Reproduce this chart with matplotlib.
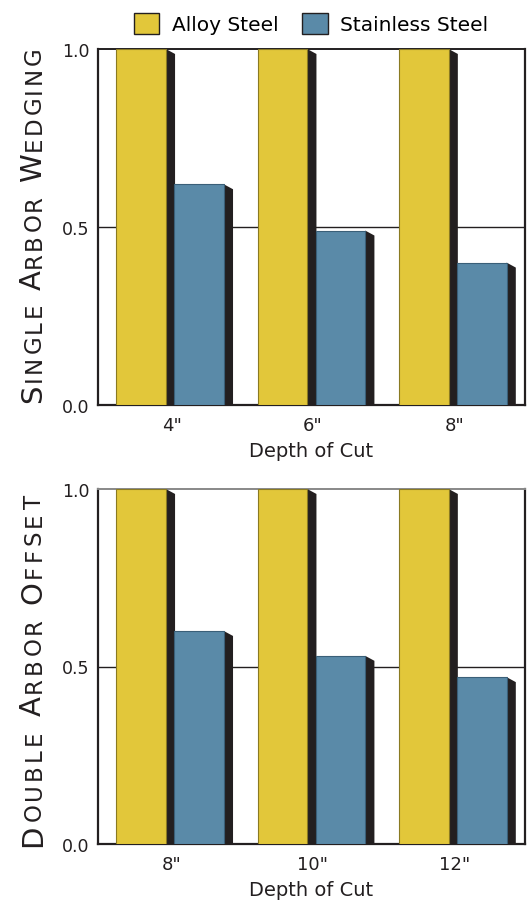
import matplotlib.pyplot as plt
from matplotlib.patches import Patch
from matplotlib.font_manager import FontProperties
import numpy as np

plt.rcParams['font.family'] = ['DejaVu Sans']

# data
series = ["Alloy Steel", "Stainless Steel"]
top_cats = ['4"', '6"', '8"']
top_alloy = [1.0, 1.0, 1.0]
top_stainless = [0.62, 0.49, 0.40]
bot_cats = ['8"', '10"', '12"']
bot_alloy = [1.0, 1.0, 1.0]
bot_stainless = [0.60, 0.53, 0.47]
yticks = [0.0, 0.5, 1.0]
xlabel = "Depth of Cut"
ylabels = ["Single Arbor Wedging", "Double Arbor Offset"]

YELLOW = "#E2C73A"
BLUE = "#5A8AA8"
SHADE = "#231F20"
W, H = 532, 903

fig = plt.figure(figsize=(W / 100, H / 100), dpi=100)


def px_axes(left, top, right, bottom):
    return fig.add_axes([left / W, 1 - bottom / H, (right - left) / W, (bottom - top) / H])


def bars_3d(ax, xs, vals, color, edge):
    width = 0.35
    dx, dy = 0.065, 0.014
    ax.bar(xs, vals, width=width, align="edge", color=color, edgecolor=edge,
           linewidth=0.8, zorder=4)
    # dark side face of each bar
    for x, v in zip(xs, vals):
        xr = x + width
        ax.fill([xr, xr + dx, xr + dx, xr], [v, v - dy, 0, 0], color=SHADE,
                lw=0, zorder=3)


def panel(ax, cats, alloy, stain, top_color):
    x = np.arange(len(cats))
    bars_3d(ax, x - 0.39, alloy, YELLOW, "#8a7a22")
    bars_3d(ax, x + 0.02, stain, BLUE, "#3a5f78")
    ax.set_xlim(-0.52, 2.5)
    ax.set_ylim(0, 1.0)
    ax.set_yticks(yticks)
    ax.set_yticklabels([f"{t:.1f}" for t in yticks], fontsize=12.5, color=SHADE)
    ax.set_xticks(x)
    ax.set_xticklabels(cats, fontsize=13, color=SHADE)
    ax.tick_params(axis="y", length=0, pad=6)
    ax.tick_params(axis="x", length=0, pad=8)
    ax.axhline(0.5, color=SHADE, lw=1, zorder=1)
    ax.set_xlabel(xlabel, fontsize=14, color=SHADE, labelpad=5)
    for s in ["left", "bottom", "right"]:
        ax.spines[s].set_linewidth(1.6)
        ax.spines[s].set_color(SHADE)
    ax.spines["top"].set_linewidth(1.4)
    ax.spines["top"].set_color(top_color)


ax1 = px_axes(98, 50, 525, 406)
panel(ax1, top_cats, top_alloy, top_stainless, SHADE)
ax2 = px_axes(98, 490, 525, 845)
panel(ax2, bot_cats, bot_alloy, bot_stainless, "#888888")

# legend
handles = [Patch(facecolor=YELLOW, edgecolor=SHADE, lw=1),
           Patch(facecolor=BLUE, edgecolor=SHADE, lw=1)]
fig.legend(handles, series, loc="upper center", bbox_to_anchor=(311 / W, 1 - 6 / H),
           ncol=2, frameon=False, fontsize=14.5, handlelength=1.25, handleheight=1.2,
           handletextpad=0.6, columnspacing=1.2, borderaxespad=0)

# small caps y labels, placed letter by letter
renderer = fig.canvas.get_renderer()


def small_caps(text, x_base, y_bottom, y_top, big=21, small=16.5):
    items = []
    for word_i, word in enumerate(text.split(" ")):
        if word_i > 0:
            items.append((" ", small))
        items.append((word[0].upper(), big))
        for ch in word[1:]:
            items.append((ch.upper(), small))
    widths = []
    for ch, sz in items:
        fp = FontProperties(family="DejaVu Sans", size=sz)
        if ch == " ":
            w1, _, _ = renderer.get_text_width_height_descent("a a", fp, ismath=False)
            w2, _, _ = renderer.get_text_width_height_descent("aa", fp, ismath=False)
            w = w1 - w2
        else:
            w, _, _ = renderer.get_text_width_height_descent(ch, fp, ismath=False)
        widths.append(w)
    extra = ((y_bottom - y_top) - sum(widths)) / (len(items) - 1)
    y = y_bottom
    for (ch, sz), w in zip(items, widths):
        if ch != " ":
            fig.text(x_base / W, 1 - y / H, ch, fontsize=sz, rotation=90,
                     rotation_mode="anchor", ha="left", va="baseline", color=SHADE)
        y -= w + extra


small_caps(ylabels[0], 41, 403, 47)
small_caps(ylabels[1], 41, 847, 495)

fig.savefig("out.png", dpi=100)
